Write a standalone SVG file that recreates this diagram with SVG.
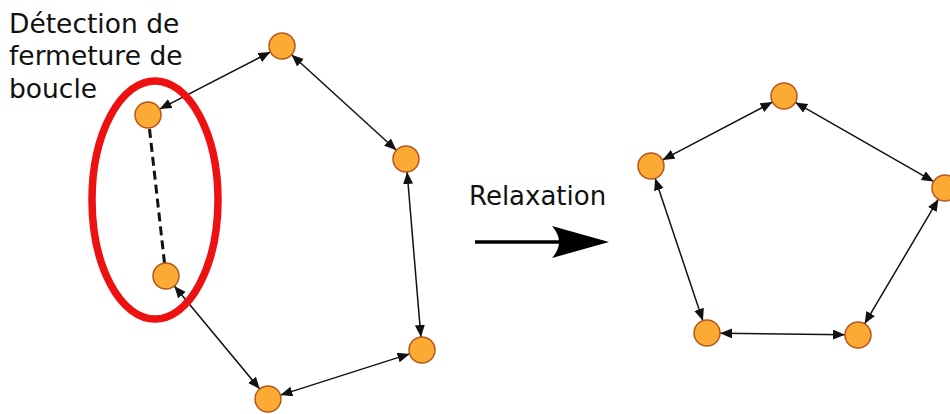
<svg xmlns="http://www.w3.org/2000/svg" width="950" height="414" viewBox="0 0 950 414">
<style>
.node{fill:#fbaa33;stroke:#b8561c;stroke-width:1.5}
.edge{stroke:#111;stroke-width:1.5;fill:none;marker-start:url(#ah);marker-end:url(#ah)}
.lbl{font-family:"DejaVu Sans",sans-serif;font-size:26.5px;fill:#111}
</style>
<defs>
<marker id="ah" markerUnits="userSpaceOnUse" markerWidth="13" markerHeight="11" refX="12" refY="5" orient="auto-start-reverse">
<path d="M0,0 L12,5 L0,10 z" fill="#111"/>
</marker>
</defs>
<rect width="950" height="414" fill="#fff"/>
<g id="connectors">
<line class="edge" x1="159.6" y1="109.1" x2="270.4" y2="52.0"/>
<line class="edge" x1="291.6" y1="54.7" x2="396.4" y2="150.2"/>
<line class="edge" x1="407.1" y1="172.0" x2="420.9" y2="337.0"/>
<line class="edge" x1="409.6" y1="353.9" x2="280.4" y2="395.1"/>
<line class="edge" x1="259.7" y1="389.0" x2="174.3" y2="286.0"/>
<line x1="149.5" y1="129" x2="164.5" y2="263" stroke="#111" stroke-width="3" stroke-dasharray="9,5"/>
<line class="edge" x1="772.5" y1="102.1" x2="662.5" y2="159.9"/>
<line class="edge" x1="795.3" y1="102.4" x2="933.7" y2="181.6"/>
<line class="edge" x1="938.4" y1="199.2" x2="864.6" y2="323.8"/>
<line class="edge" x1="845" y1="334.8" x2="720" y2="333.2"/>
<line class="edge" x1="702.9" y1="320.7" x2="655.1" y2="178.3"/>
</g>
<g id="loop-highlight">
<ellipse cx="155" cy="200" rx="63" ry="119" fill="none" stroke="#ee1111" stroke-width="7.5"/>
</g>
<g id="nA"><circle class="node" cx="148" cy="115" r="13"/></g>
<g id="nB"><circle class="node" cx="282" cy="46" r="13"/></g>
<g id="nC"><circle class="node" cx="406" cy="159" r="13"/></g>
<g id="nD"><circle class="node" cx="422" cy="350" r="13"/></g>
<g id="nE"><circle class="node" cx="268" cy="399" r="13"/></g>
<g id="nF"><circle class="node" cx="166" cy="276" r="13"/></g>
<g id="nT"><circle class="node" cx="784" cy="96" r="13"/></g>
<g id="nL"><circle class="node" cx="651" cy="166" r="13"/></g>
<g id="nR"><circle class="node" cx="945" cy="188" r="13"/></g>
<g id="nBL"><circle class="node" cx="707" cy="333" r="13"/></g>
<g id="nBR"><circle class="node" cx="858" cy="335" r="13"/></g>
<g id="label-loop">
<text class="lbl" x="9" y="33">Détection de</text>
<text class="lbl" x="9" y="65">fermeture de</text>
<text class="lbl" x="9" y="98">boucle</text>
</g>
<g id="relaxation">
<text class="lbl" x="469" y="205" style="font-size:26px">Relaxation</text>
<line x1="475" y1="242" x2="575" y2="242" stroke="#000" stroke-width="3.5"/>
<path d="M609,242 L552,226 Q566,242 552,258 Z" fill="#000"/>
</g>
</svg>
